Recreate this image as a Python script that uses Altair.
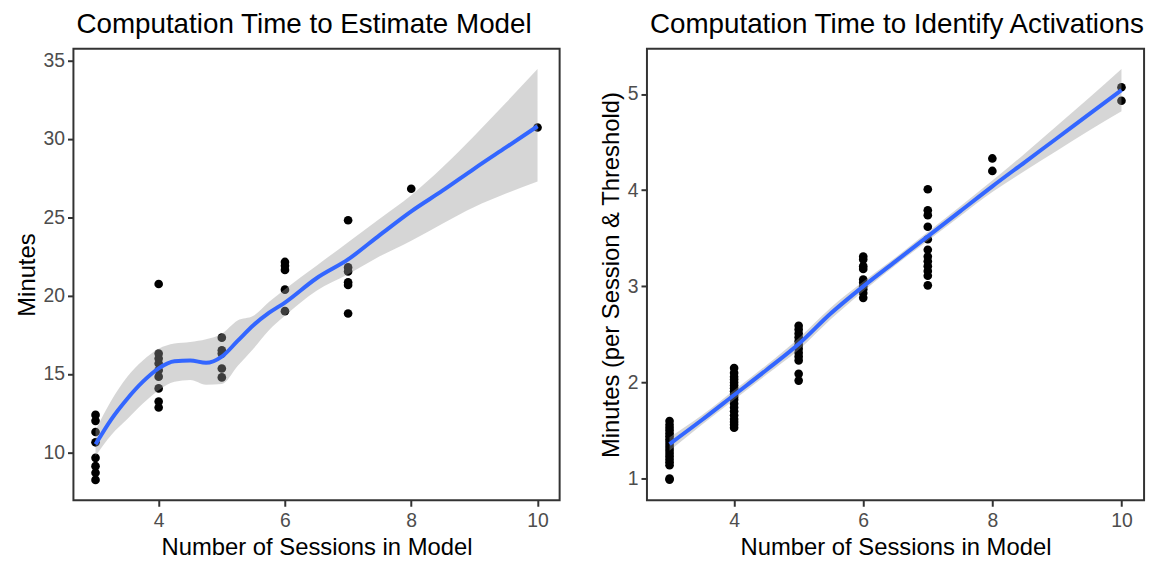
import altair as alt
import pandas as pd

FONT = "Liberation Sans"

# ---------------- Left panel data ----------------
left_pts = {
    3: [12.38, 12.0, 11.29, 10.63, 9.64, 9.11, 8.69, 8.23],
    4: [20.73, 16.29, 15.98, 15.66, 15.23, 14.82, 14.07, 13.23, 12.85],
    5: [17.31, 16.5, 16.29, 15.34, 14.77],
    6: [22.14, 21.89, 21.63, 20.37, 19.0],
    7: [24.8, 21.79, 21.53, 20.84, 20.67, 18.85],
    8: [26.81],
    10: [30.72],
}
left_fit_x = [3.0, 3.25, 3.5, 3.75, 4.0, 4.25, 4.5, 4.75, 5.0, 5.25, 5.5, 5.75,
              6.0, 6.5, 7.0, 7.5, 8.0, 8.5, 9.0, 9.5, 10.0]
left_fit = [10.5, 12.1, 13.4, 14.5, 15.35, 15.8, 15.85, 15.7, 16.1, 17.1, 18.1, 18.9,
            19.55, 21.1, 22.3, 23.85, 25.37, 26.7, 28.1, 29.45, 30.8]
left_hi = [11.4, 13.3, 14.8, 15.85, 16.6, 16.93, 17.03, 17.2, 17.55, 18.4, 18.7, 19.6,
           20.4, 21.9, 23.4, 24.9, 26.4, 28.2, 30.2, 32.3, 34.45]
left_lo = [9.75, 11.1, 12.1, 13.1, 13.95, 14.5, 14.6, 14.3, 14.35, 15.5, 16.6, 17.8,
           18.7, 20.3, 21.35, 22.5, 23.5, 24.6, 25.65, 26.5, 27.27]

# ---------------- Right panel data ----------------
right_pts = {
    3: [0.99, 1.0, 1.14, 1.17, 1.2, 1.23, 1.26, 1.29, 1.32, 1.35, 1.38, 1.41, 1.44,
        1.47, 1.5, 1.53, 1.56, 1.6],
    4: [1.53, 1.56, 1.59, 1.62, 1.66, 1.7, 1.74, 1.78, 1.82, 1.85, 1.88, 1.91, 1.94,
        1.97, 2.0, 2.03, 2.06, 2.1, 2.15],
    5: [2.02, 2.09, 2.23, 2.27, 2.31, 2.35, 2.39, 2.43, 2.47, 2.51, 2.55, 2.59],
    6: [3.31, 3.28, 3.21, 3.18, 3.07, 3.04, 3.0, 2.97, 2.93, 2.88],
    7: [4.01, 3.79, 3.74, 3.62, 3.49, 3.38, 3.31, 3.26, 3.21, 3.16, 3.11, 3.01],
    8: [4.33, 4.2],
    10: [5.07, 4.93],
}
right_fit_x = [3.0, 3.5, 4.0, 4.5, 5.0, 5.5, 6.0, 6.5, 7.0, 7.5, 8.0, 8.5, 9.0, 9.5, 10.0]
right_fit = [1.36, 1.61, 1.87, 2.13, 2.40, 2.72, 3.0, 3.26, 3.52, 3.78, 4.04, 4.29,
             4.54, 4.79, 5.04]
right_hi = [1.43, 1.66, 1.92, 2.18, 2.46, 2.78, 3.05, 3.30, 3.565, 3.83, 4.10, 4.38,
            4.67, 4.96, 5.26]
right_lo = [1.29, 1.56, 1.82, 2.08, 2.34, 2.66, 2.95, 3.22, 3.475, 3.73, 3.98, 4.20,
            4.41, 4.62, 4.82]

x_ticks = [4, 6, 8, 10]
left_y_ticks = [10, 15, 20, 25, 30, 35]
right_y_ticks = [1, 2, 3, 4, 5]


def pts_df(d):
    rows = [{"x": k, "y": v} for k, vals in d.items() for v in vals]
    return pd.DataFrame(rows)


def panel(pts, fx, fy, hi, lo, ydom, yticks, title, ytitle, width, height):
    pdf = pts_df(pts)
    fdf = pd.DataFrame({"x": fx, "fit": fy, "hi": hi, "lo": lo})
    xs = alt.Scale(domain=[2.65, 10.35], nice=False, zero=False)
    ys = alt.Scale(domain=ydom, nice=False, zero=False)
    xax = alt.Axis(values=x_ticks, format="d", title="Number of Sessions in Model")
    yax = alt.Axis(values=yticks, format="d", title=ytitle)
    points = alt.Chart(pdf).mark_circle(size=76, color="black", opacity=1).encode(
        x=alt.X("x:Q", scale=xs, axis=xax),
        y=alt.Y("y:Q", scale=ys, axis=yax),
    )
    band = alt.Chart(fdf).mark_area(color="#999999", opacity=0.4,
                                    interpolate="monotone").encode(
        x=alt.X("x:Q", scale=xs),
        y=alt.Y("lo:Q", scale=ys),
        y2="hi:Q",
    )
    line = alt.Chart(fdf).mark_line(color="#3366FF", strokeWidth=4,
                                    interpolate="monotone").encode(
        x=alt.X("x:Q", scale=xs),
        y=alt.Y("fit:Q", scale=ys),
    )
    return alt.layer(points, band, line).properties(
        width=width, height=height,
        title=alt.TitleParams(title, anchor="start", frame="group", fontSize=28,
                              font=FONT, fontWeight="normal", color="black",
                              offset=10, dx=3),
    )


left = panel(left_pts, left_fit_x, left_fit, left_hi, left_lo, [6.93, 35.74],
             left_y_ticks, "Computation Time to Estimate Model", "Minutes", 490, 455)
right = panel(right_pts, right_fit_x, right_fit, right_hi, right_lo, [0.775, 5.47],
              right_y_ticks, "Computation Time to Identify Activations",
              "Minutes (per Session & Threshold)", 501, 455)

chart = alt.hconcat(left, right, spacing=38).properties(
    padding={"left": 14, "top": 8, "right": 5, "bottom": 0},
    background="white",
).configure_axis(
    labelFont=FONT, labelFontSize=19.5, labelColor="#4D4D4D",
    titleFont=FONT, titleFontSize=24, titleFontWeight="normal", titleColor="black",
    tickColor="#333333", tickSize=6, tickWidth=2,
    domain=False, grid=False,
).configure_axisX(
    labelPadding=5, titlePadding=6,
).configure_axisY(
    labelPadding=3, titlePadding=4,
).configure_view(stroke="#333333", strokeWidth=2)

chart.save("out.html", embed_options={"renderer": "svg", "actions": False})
